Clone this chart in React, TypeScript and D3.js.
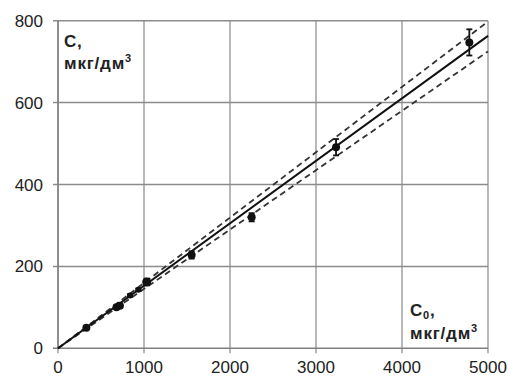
import React from "react";
import * as d3 from "d3";

const xTicks = [0, 1000, 2000, 3000, 4000, 5000];
const yTicks = [0, 200, 400, 600, 800];
const pointX = [330, 680, 720, 837, 934, 1031, 1554, 2252, 3233, 4783];
const pointY = [50, 100, 104, 129, 143, 162, 228, 320, 491, 747];
const pointErr = [3, 4, 5, 3, 3, 8, 9, 10, 20, 32];
const pointR = [4, 4, 4, 3, 3, 4.5, 4, 4, 4, 4];
const lineX = [0, 5000];
const fitY = [0, 763];
const upperY = [0, 798];
const lowerY = [0, 725];

const W = 508;
const H = 376;
const left = 58;
const right = 488;
const top = 20.7;
const bottom = 348.3;

export default function App() {
  const x = d3.scaleLinear().domain([0, 5000]).range([left, right]);
  const y = d3.scaleLinear().domain([0, 800]).range([bottom, top]);
  const line = (ys: number[]) =>
    d3.line<number>().x((_, i) => x(lineX[i])).y((d) => y(d))(ys) || "";
  const font = "'Liberation Sans', Arial, sans-serif";
  return (
    <svg
      width={W}
      height={H}
      style={{ position: "absolute", left: 0, top: 0, background: "#fff" }}
      fontFamily={font}
    >
      {xTicks.map((t) => (
        <line key={"gx" + t} x1={x(t)} x2={x(t)} y1={top} y2={bottom + 5} stroke="#a0a0a0" strokeWidth={1.5} />
      ))}
      {yTicks.map((t) => (
        <line key={"gy" + t} x1={left - 5} x2={right} y1={y(t)} y2={y(t)} stroke={t === 0 ? "#808080" : "#8c8c8c"} strokeWidth={1.5} />
      ))}
      <line x1={left} x2={left} y1={top} y2={bottom} stroke="#808080" strokeWidth={1.5} />
      {yTicks.map((t) => (
        <text key={"ty" + t} x={43} y={y(t) + 6} textAnchor="end" fontSize={17} fill="#222">
          {t}
        </text>
      ))}
      {xTicks.map((t) => (
        <text key={"tx" + t} x={x(t)} y={373} textAnchor="middle" fontSize={17} fill="#222">
          {t}
        </text>
      ))}
      <path d={line(upperY)} fill="none" stroke="#333" strokeWidth={1.8} strokeDasharray="6,4" />
      <path d={line(lowerY)} fill="none" stroke="#333" strokeWidth={1.8} strokeDasharray="6,4" />
      <path d={line(fitY)} fill="none" stroke="#111" strokeWidth={2} />
      {pointX.map((px, i) => {
        const cx = x(px);
        const e = pointErr[i];
        return (
          <g key={"p" + i}>
            <line x1={cx} x2={cx} y1={y(pointY[i] - e)} y2={y(pointY[i] + e)} stroke="#111" strokeWidth={1.8} />
            <line x1={cx - 3} x2={cx + 3} y1={y(pointY[i] - e)} y2={y(pointY[i] - e)} stroke="#111" strokeWidth={1.8} />
            <line x1={cx - 3} x2={cx + 3} y1={y(pointY[i] + e)} y2={y(pointY[i] + e)} stroke="#111" strokeWidth={1.8} />
            <circle cx={cx} cy={y(pointY[i])} r={pointR[i]} fill="#111" />
          </g>
        );
      })}
      <text x={64} y={47} fontSize={17} fontWeight="bold" fill="#222" letterSpacing={0.8}>C,</text>
      <text x={64} y={69} fontSize={17} fontWeight="bold" fill="#222" letterSpacing={0.8}>
        мкг/дм<tspan fontSize={11} dy={-7}>3</tspan>
      </text>
      <text x={410} y={316} fontSize={17} fontWeight="bold" fill="#222" letterSpacing={0.8}>
        C<tspan fontSize={11} dy={3}>0</tspan><tspan dy={-3}>,</tspan>
      </text>
      <text x={410} y={339} fontSize={17} fontWeight="bold" fill="#222" letterSpacing={0.8}>
        мкг/дм<tspan fontSize={11} dy={-7}>3</tspan>
      </text>
    </svg>
  );
}
